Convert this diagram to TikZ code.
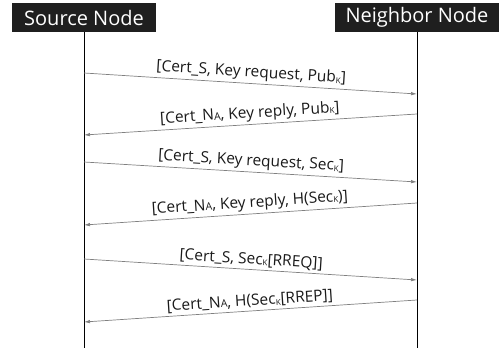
\documentclass[tikz,border=0pt]{standalone}
\usepackage{fontspec}
\setmainfont{Open Sans}
\usetikzlibrary{positioning,arrows.meta}
\newcommand{\lowk}{\raisebox{-1pt}{\fontsize{8}{8}\selectfont K}}
\newcommand{\capa}{{\fontsize{10.5}{10.5}\selectfont A}}

\begin{document}
\begin{tikzpicture}[x=1pt,y=-1pt,
	head/.style={fill=black!88,text=white,font=\fontsize{20}{20}\selectfont,minimum height=29pt,inner sep=0pt},
	msg/.style={draw=black!50,line width=0.7pt,-{Latex[length=6pt,width=3.5pt]}},
	lbl/.style={font=\fontsize{15.5}{15.5}\selectfont,text=black!90,sloped,above,inner sep=2.5pt}]
	\useasboundingbox (0,0) rectangle (499,348);
	\node(1) [head,minimum width=144pt] at (84,17.5) {Source Node};
	\node(2) [head,minimum width=164pt] at (417,17.5) {Neighbor Node};
	\coordinate (1z) at (1.south |- 0,348);
	\coordinate (2z) at (2.south |- 0,348);
	\draw[line width=1pt] (1.south) -- (1z);
	\draw[line width=1pt] (2.south) -- (2z);
	\coordinate (a1) at (1.south |- 0,73);  \coordinate (b1) at (2.south |- 0,94);
	\coordinate (b2) at (2.south |- 0,114); \coordinate (a2) at (1.south |- 0,135);
	\coordinate (a3) at (1.south |- 0,162); \coordinate (b3) at (2.south |- 0,182);
	\coordinate (b4) at (2.south |- 0,203); \coordinate (a4) at (1.south |- 0,225);
	\coordinate (a5) at (1.south |- 0,259); \coordinate (b5) at (2.south |- 0,280);
	\coordinate (b6) at (2.south |- 0,300); \coordinate (a6) at (1.south |- 0,322);
	\path
		(a1) edge[msg] node[lbl] {[Cert\_S, Key request, Pub\lowk]} (b1)
		(b2) edge[msg] node[lbl] {[Cert\_N\capa, Key reply, Pub\lowk]} (a2)
		(a3) edge[msg] node[lbl] {[Cert\_S, Key request, Sec\lowk]} (b3)
		(b4) edge[msg] node[lbl] {[Cert\_N\capa, Key reply, H(Sec\lowk)]} (a4)
		(a5) edge[msg] node[lbl] {[Cert\_S, Sec\lowk[RREQ]]} (b5)
		(b6) edge[msg] node[lbl] {[Cert\_N\capa, H(Sec\lowk[RREP]]} (a6);
\end{tikzpicture}
\end{document}
